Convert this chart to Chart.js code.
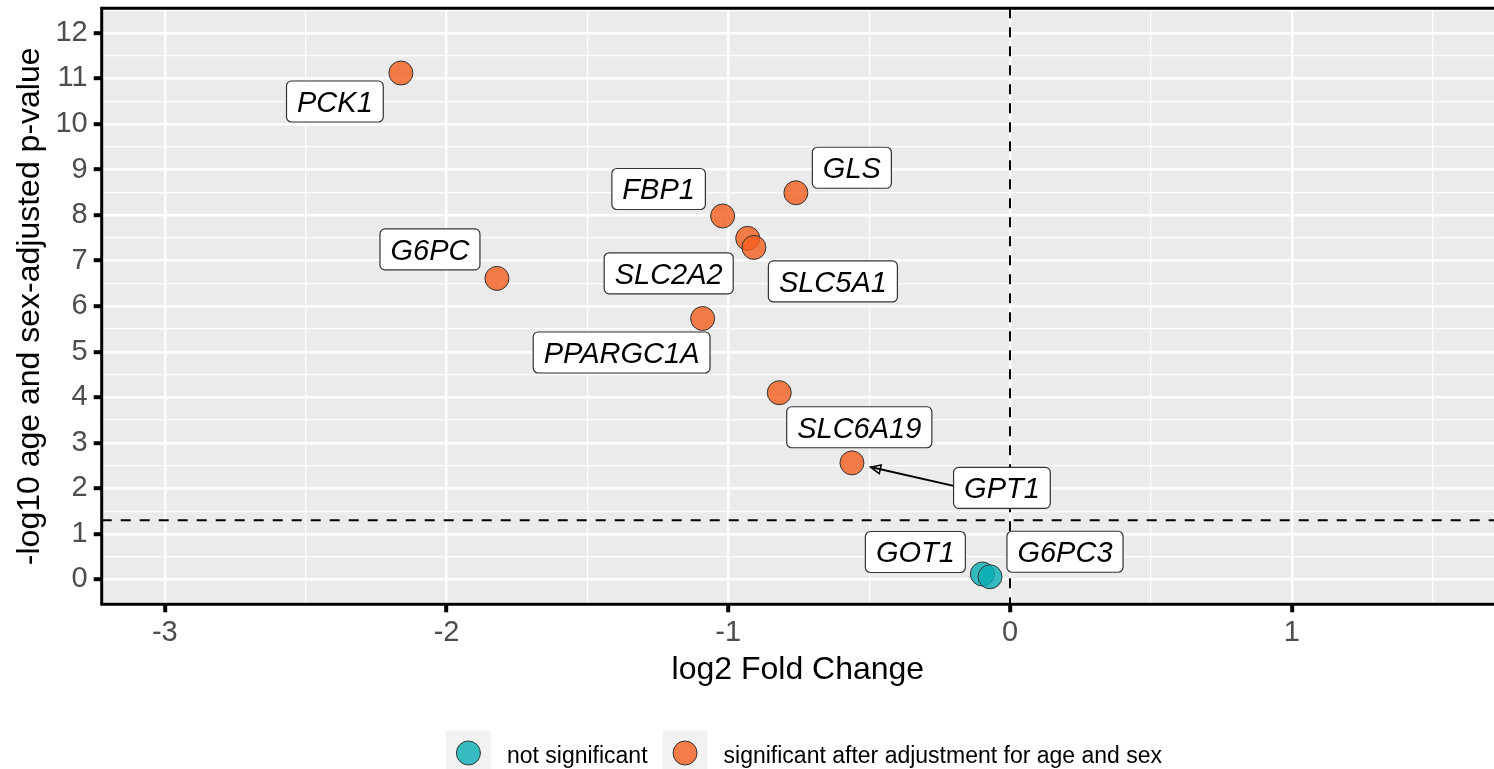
<!DOCTYPE html>
<html>
<head>
<meta charset="utf-8">
<script src="https://cdn.jsdelivr.net/npm/chart.js@4.4.0/dist/chart.umd.min.js"></script>
<style>
  html, body { margin: 0; padding: 0; background: #fff; }
  canvas { display: block; }
</style>
</head>
<body>
<canvas id="volcano" width="1494" height="769"></canvas>
<script>
// data
const genes = ['PCK1', 'G6PC', 'FBP1', 'GLS', 'SLC2A2', 'SLC5A1', 'PPARGC1A', 'SLC6A19', 'GPT1', 'GOT1', 'G6PC3'];
const log2FoldChange = [-2.162, -1.821, -1.020, -0.760, -0.931, -0.909, -1.091, -0.819, -0.561, -0.098, -0.071];
const negLog10P = [11.12, 6.61, 7.98, 8.49, 7.49, 7.29, 5.73, 4.10, 2.56, 0.12, 0.06];
const isSignificant = [true, true, true, true, true, true, true, true, true, false, false];
const groupLabels = ['not significant', 'significant after adjustment for age and sex'];
const xTickLabels = ['-3', '-2', '-1', '0', '1'];
const yTickLabels = ['0', '1', '2', '3', '4', '5', '6', '7', '8', '9', '10', '11', '12'];
const pCutoff = 1.301;   // -log10(0.05)
const fcCutoff = 0;

// label placement (pixel nudges, like ggrepel result)
const labelNudge = {
  PCK1: [-66, 28.5], G6PC: [-67, -29], FBP1: [-64, -27], GLS: [56, -25],
  SLC2A2: [-79, 35], SLC5A1: [79, 34], PPARGC1A: [-81, 34], SLC6A19: [80, 34.5],
  GPT1: [150, 25], GOT1: [-67, -22], G6PC3: [75, -25]
};
const arrowGenes = ['GPT1'];

const FONT = '"Liberation Sans", Arial, Helvetica, sans-serif';
const orange = 'rgba(243, 94, 29, 0.8)';
const teal = 'rgba(6, 174, 179, 0.8)';

function pointsFor(flag) {
  const out = [];
  genes.forEach((g, i) => {
    if (isSignificant[i] === flag) out.push({ x: log2FoldChange[i], y: negLog10P[i], gene: g });
  });
  return out;
}

const panelPlugin = {
  id: 'panel',
  beforeDraw(chart) {
    const { ctx, chartArea: a } = chart;
    ctx.save();
    ctx.fillStyle = '#fff';
    ctx.fillRect(0, 0, chart.width, chart.height);
    ctx.fillStyle = '#EBEBEB';
    ctx.fillRect(a.left, a.top, a.right - a.left, a.bottom - a.top);
    ctx.restore();
  },
  beforeDatasetsDraw(chart) {
    const { ctx, chartArea: a, scales } = chart;
    ctx.save();
    ctx.strokeStyle = '#000';
    ctx.lineWidth = 2;
    ctx.setLineDash([10, 9]);
    const y = scales.y.getPixelForValue(pCutoff);
    ctx.beginPath(); ctx.moveTo(a.left, y); ctx.lineTo(a.right, y); ctx.stroke();
    const x = scales.x.getPixelForValue(fcCutoff);
    ctx.beginPath(); ctx.moveTo(x, a.top); ctx.lineTo(x, a.bottom); ctx.stroke();
    ctx.restore();
  },
  afterDatasetsDraw(chart) {
    const { ctx, chartArea: a } = chart;
    ctx.save();
    // panel border
    ctx.strokeStyle = '#000';
    ctx.lineWidth = 3;
    ctx.beginPath();
    ctx.moveTo(a.right + 5, a.top);
    ctx.lineTo(a.left, a.top);
    ctx.lineTo(a.left, a.bottom);
    ctx.lineTo(a.right + 5, a.bottom);
    ctx.stroke();

    // gene labels
    ctx.font = 'italic 29px ' + FONT;
    chart.data.datasets.forEach((ds, di) => {
      const meta = chart.getDatasetMeta(di);
      meta.data.forEach((el, j) => {
        const gene = ds.data[j].gene;
        const nudge = labelNudge[gene];
        const cx = el.x + nudge[0], cy = el.y + nudge[1];
        const tw = ctx.measureText(gene).width;
        const w = tw + 21, h = 41;
        const bx = cx - w / 2, by = cy - h / 2;
        if (arrowGenes.includes(gene)) {
          const sx = bx, sy = cy - 2;
          const dx = el.x - sx, dy = el.y - sy;
          const len = Math.hypot(dx, dy);
          const ex = el.x - dx / len * 19, ey = el.y - dy / len * 19;
          const ang = Math.atan2(ey - sy, ex - sx);
          ctx.strokeStyle = '#000';
          ctx.lineWidth = 2;
          ctx.beginPath(); ctx.moveTo(sx, sy); ctx.lineTo(ex, ey); ctx.stroke();
          ctx.beginPath();
          ctx.moveTo(ex - 11 * Math.cos(ang - 0.42), ey - 11 * Math.sin(ang - 0.42));
          ctx.lineTo(ex, ey);
          ctx.lineTo(ex - 11 * Math.cos(ang + 0.42), ey - 11 * Math.sin(ang + 0.42));
          ctx.closePath();
          ctx.lineWidth = 1.5;
          ctx.stroke();
        }
        ctx.beginPath();
        ctx.roundRect(bx, by, w, h, 5);
        ctx.fillStyle = '#fff';
        ctx.fill();
        ctx.strokeStyle = '#333';
        ctx.lineWidth = 1.2;
        ctx.stroke();
        ctx.fillStyle = '#000';
        ctx.textAlign = 'center';
        ctx.textBaseline = 'alphabetic';
        ctx.fillText(gene, cx, cy + 10.4);
      });
    });
    ctx.restore();
  },
  afterDraw(chart) {
    // legend at the bottom, ggplot style keys
    const { ctx } = chart;
    ctx.save();
    ctx.font = '23px ' + FONT;
    const key = 45, gapText = 16, gapItem = 15, cy = 753, centerX = 804;
    const items = chart.data.datasets.map(ds => ({
      label: ds.label, fill: ds.backgroundColor, w: ctx.measureText(ds.label).width
    }));
    const total = items.reduce((s, it) => s + key + gapText + it.w, 0) + gapItem * (items.length - 1);
    let x = centerX - total / 2;
    items.forEach(it => {
      ctx.fillStyle = '#F2F2F2';
      ctx.fillRect(x, cy - key / 2, key, key);
      ctx.beginPath();
      ctx.arc(x + key / 2, cy, 12, 0, Math.PI * 2);
      ctx.fillStyle = it.fill;
      ctx.fill();
      ctx.strokeStyle = '#333';
      ctx.lineWidth = 1;
      ctx.stroke();
      ctx.fillStyle = '#000';
      ctx.textAlign = 'left';
      ctx.textBaseline = 'alphabetic';
      ctx.fillText(it.label, x + key + gapText, cy + 10);
      x += key + gapText + it.w + gapItem;
    });
    ctx.restore();
  }
};

function gridOpts() {
  return {
    color: '#fff',
    lineWidth: c => (c.tick && Number.isInteger(c.tick.value)) ? 2.4 : 1.2,
    tickColor: c => (c.tick && Number.isInteger(c.tick.value)) ? '#000' : 'rgba(0,0,0,0)',
    tickWidth: 4,
    tickLength: 8,
    drawTicks: true
  };
}

// keep the panel exactly where the reference has it
function noPad(s) {
  s.paddingTop = 0; s.paddingBottom = 0; s.paddingLeft = 0; s.paddingRight = 0;
}

const config = {
  type: 'scatter',
  data: {
    datasets: [
      {
        label: groupLabels[0],
        data: pointsFor(false),
        backgroundColor: teal,
        borderColor: '#333',
        borderWidth: 1,
        pointRadius: 12,
        pointHoverRadius: 12
      },
      {
        label: groupLabels[1],
        data: pointsFor(true),
        backgroundColor: orange,
        borderColor: '#333',
        borderWidth: 1,
        pointRadius: 12,
        pointHoverRadius: 12
      }
    ]
  },
  options: {
    responsive: false,
    animation: false,
    events: [],
    devicePixelRatio: 1,
    layout: { autoPadding: false, padding: { top: 8.3, right: 0, bottom: 74.7, left: 0 } },
    scales: {
      x: {
        type: 'linear',
        min: -3.224,
        max: 1.718,
        grid: gridOpts(),
        border: { display: false },
        ticks: {
          stepSize: 0.5,
          includeBounds: false,
          autoSkip: false,
          maxRotation: 0,
          padding: 3,
          color: '#4D4D4D',
          font: { family: FONT, size: 29 },
          callback: v => Number.isInteger(v) ? (xTickLabels.find(t => Number(t) === v) || '') : ''
        },
        title: {
          display: true,
          text: 'log2 Fold Change',
          color: '#000',
          font: { family: FONT, size: 32 },
          padding: { top: 0, bottom: 5 }
        },
        afterFit: s => { s.height = 90; noPad(s); }
      },
      y: {
        type: 'linear',
        min: -0.545,
        max: 12.54,
        grid: gridOpts(),
        border: { display: false },
        ticks: {
          stepSize: 0.5,
          includeBounds: false,
          autoSkip: false,
          padding: 6,
          color: '#4D4D4D',
          font: { family: FONT, size: 29 },
          callback: v => Number.isInteger(v) ? (yTickLabels.find(t => Number(t) === v) || '') : ''
        },
        title: {
          display: true,
          text: '-log10 age and sex-adjusted p-value',
          color: '#000',
          font: { family: FONT, size: 32 },
          padding: { top: 11, bottom: 0 }
        },
        afterFit: s => { s.width = 101.7; noPad(s); }
      }
    },
    plugins: {
      legend: { display: false },
      tooltip: { enabled: false }
    }
  },
  plugins: [panelPlugin]
};

const myChart = new Chart(document.getElementById('volcano'), config);
</script>
</body>
</html>
